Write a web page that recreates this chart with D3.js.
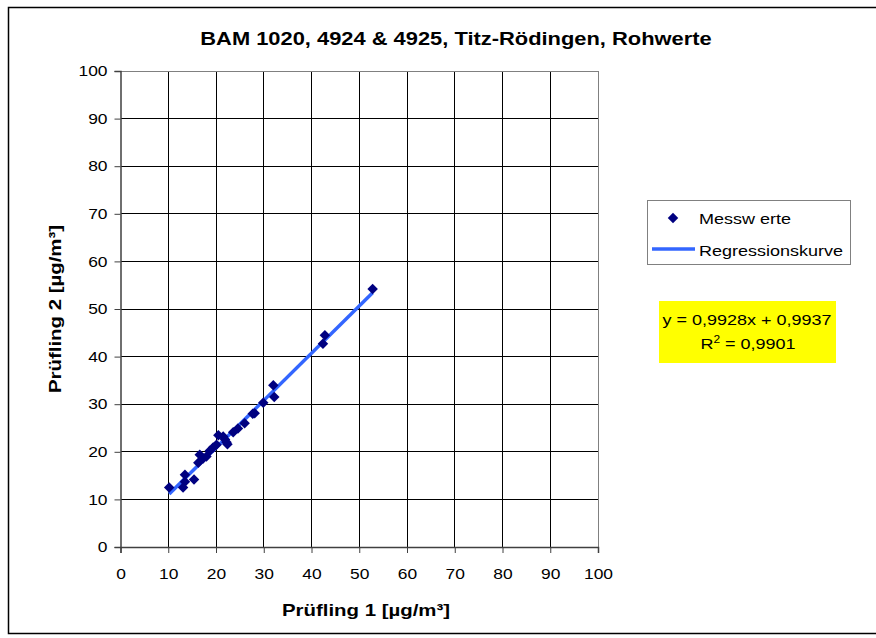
<!DOCTYPE html>
<html><head><meta charset="utf-8">
<script src="https://cdn.jsdelivr.net/npm/d3@7"></script>
<style>
body{margin:0;background:#fff;}
svg{display:block;font-family:"Liberation Sans",Arial,sans-serif;}
</style></head>
<body>
<svg id="c" width="876" height="638"></svg>
<script>
const titleText = "BAM 1020, 4924 & 4925, Titz-Rödingen, Rohwerte";
const xLabel = "Prüfling 1 [µg/m³]";
const yLabel = "Prüfling 2 [µg/m³]";
const xTicks = [0,10,20,30,40,50,60,70,80,90,100];
const yTicks = [0,10,20,30,40,50,60,70,80,90,100];
const pruefling1 = [10.2,13.1,13.5,13.5,15.4,16.3,16.6,17.3,18.0,18.7,19.4,20.1,20.5,21.5,21.9,22.2,22.4,23.6,24.6,26.0,27.7,28.1,29.9,32.0,32.2,42.4,42.8,52.8];
const pruefling2 = [12.5,12.5,15.2,13.7,14.2,17.7,19.4,18.6,19.0,20.2,20.9,21.5,23.5,23.2,22.6,22.0,21.6,24.1,24.9,26.0,28.0,28.1,30.3,34.0,31.5,42.7,44.5,54.2];
const slope = 0.9928, intercept = 0.9937;
const regrRange = [10.2, 52.8];
const eqLines = ["y = 0,9928x + 0,9937", "R2 = 0,9901"];
const legendItems = ["Messw erte", "Regressionskurve"];

const SX = 1.2; // horizontal glyph stretch seen in the reference
function stretch(sel, f){
  sel.each(function(){
    const w = this.getComputedTextLength();
    d3.select(this).attr("textLength", w*f).attr("lengthAdjust","spacingAndGlyphs");
  });
  return sel;
}

const svg = d3.select("#c");
// outer border
svg.append("rect").attr("x",8.5).attr("y",7.5).attr("width",880).attr("height",626)
  .attr("fill","none").attr("stroke","#000").attr("stroke-width",1.5);

const L=120.5, R=598, T=71, B=547;
const x = d3.scaleLinear().domain([0,100]).range([L,R]);
const y = d3.scaleLinear().domain([0,100]).range([B,T]);

// grid
const g = svg.append("g");
g.selectAll(".gx").data(xTicks.slice(1)).join("line")
  .attr("x1",d=>x(d)).attr("x2",d=>x(d)).attr("y1",T).attr("y2",B)
  .attr("stroke",d=>d===100?"#808080":"#000").attr("stroke-width",1).attr("shape-rendering","crispEdges");
g.selectAll(".gy").data(yTicks.slice(1)).join("line")
  .attr("y1",d=>y(d)).attr("y2",d=>y(d)).attr("x1",L).attr("x2",R)
  .attr("stroke",d=>d===100?"#808080":"#000").attr("stroke-width",1).attr("shape-rendering","crispEdges");

// axes
const xAxis = d3.axisBottom(x).tickValues(xTicks).tickSize(6).tickPadding(16);
const yAxis = d3.axisLeft(y).tickValues(yTicks).tickSize(6).tickPadding(7);
const gx = svg.append("g").attr("transform",`translate(0,${B})`).call(xAxis);
const gy = svg.append("g").attr("transform",`translate(${L},0)`).call(yAxis);
[gx,gy].forEach(a=>{
  a.select(".domain").attr("stroke","#404040").attr("stroke-width",1.5);
  a.selectAll(".tick line").attr("stroke","#404040");
  a.selectAll(".tick text").attr("font-size",14.5).attr("fill","#000")
    .attr("font-family","'Liberation Sans',Arial,sans-serif");
  stretch(a.selectAll(".tick text"), SX);
});

// regression line
svg.append("line")
  .attr("x1",x(regrRange[0])).attr("y1",y(slope*regrRange[0]+intercept))
  .attr("x2",x(regrRange[1])).attr("y2",y(slope*regrRange[1]+intercept))
  .attr("stroke","#3366FF").attr("stroke-width",3.5);

// points
const pts = pruefling1.map((v,i)=>[v,pruefling2[i]]);
const marker = d3.symbol().type(d3.symbolSquare).size(55);
svg.selectAll(".pt").data(pts).join("path")
  .attr("d",marker)
  .attr("transform",d=>`translate(${x(d[0])},${y(d[1])}) rotate(45)`)
  .attr("fill","#000080");

// title
stretch(svg.append("text").attr("x",456).attr("y",45).attr("text-anchor","middle")
  .attr("font-size",17.5).attr("font-weight","bold").text(titleText), 1.25);
// axis titles
stretch(svg.append("text").attr("x",366).attr("y",616).attr("text-anchor","middle")
  .attr("font-size",17).attr("font-weight","bold").text(xLabel), SX);
stretch(svg.append("text").attr("transform",`translate(61,309) rotate(-90)`).attr("text-anchor","middle")
  .attr("font-size",17).attr("font-weight","bold").text(yLabel), SX);

// legend
const lg = svg.append("g");
lg.append("rect").attr("x",647.5).attr("y",200.5).attr("width",203).attr("height",64)
  .attr("fill","#fff").attr("stroke","#808080").attr("stroke-width",1);
lg.append("path").attr("d",marker)
  .attr("transform","translate(673,218) rotate(45)").attr("fill","#000080");
lg.append("line").attr("x1",652).attr("x2",695).attr("y1",249).attr("y2",249)
  .attr("stroke","#3366FF").attr("stroke-width",3.5);
stretch(lg.append("text").attr("x",699).attr("y",224).attr("font-size",15).text(legendItems[0]), SX);
stretch(lg.append("text").attr("x",699).attr("y",255.5).attr("font-size",15).text(legendItems[1]), SX);

// equation box
const eq = svg.append("g");
eq.append("rect").attr("x",659).attr("y",301).attr("width",177).attr("height",62).attr("fill","#FFFF00");
stretch(eq.append("text").attr("x",747).attr("y",325).attr("text-anchor","middle").attr("font-size",15)
  .text(eqLines[0]), SX);
const t2 = eq.append("text").attr("transform","translate(748,349) scale(1.2,1)")
  .attr("text-anchor","middle").attr("font-size",15);
t2.append("tspan").text(eqLines[1].slice(0,1));
t2.append("tspan").attr("font-size",10).attr("dy",-6).text(eqLines[1].slice(1,2));
t2.append("tspan").attr("dy",6).text(eqLines[1].slice(2));
</script>
</body></html>
